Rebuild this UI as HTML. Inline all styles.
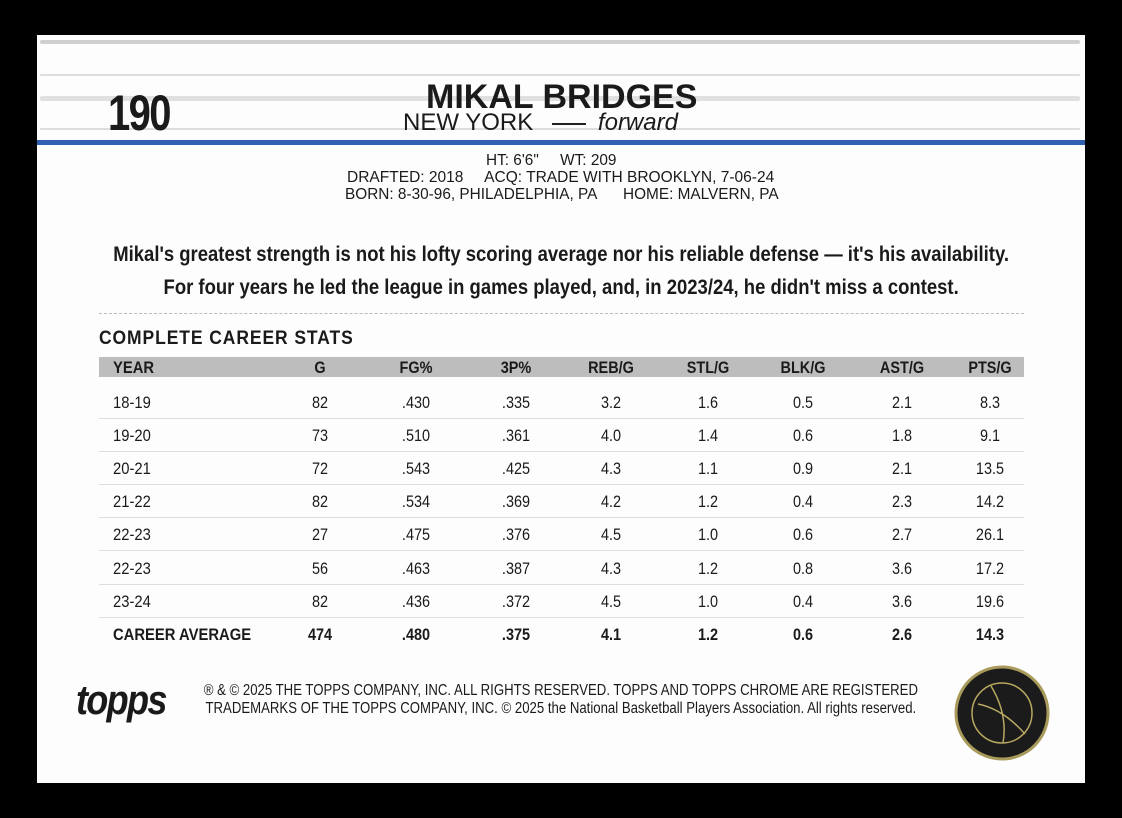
<!DOCTYPE html>
<html><head><meta charset="utf-8"><style>
body{margin:0;width:1122px;height:818px;background:#000;position:relative;overflow:hidden;font-family:"Liberation Sans",sans-serif;color:#1a1a1a}
.card{position:absolute;left:37px;top:35px;width:1048px;height:748px;background:#fdfdfd}
.a{position:absolute;white-space:nowrap}
.grain{position:absolute;height:3px;background:#cfcfcf;border-radius:2px;opacity:.7}
.c{position:absolute;transform:translateX(-50%) scaleX(.85);white-space:nowrap;font-size:17px}
.y{position:absolute;transform:scaleX(.87);transform-origin:left;white-space:nowrap;font-size:17px}
.hdr{position:absolute;left:99px;top:357px;width:925px;height:20px;background:#bdbdbd}
.sep{position:absolute;left:99px;width:925px;height:1px;background:#ddd}
</style></head><body>
<div class="card"></div>
<div class="grain" style="left:40px;top:40px;width:1040px;height:4px;background:#bbb"></div>
<div class="grain" style="left:40px;top:74px;width:1040px;height:2px"></div>
<div class="grain" style="left:40px;top:96px;width:1040px;height:5px;background:#d3d3d3"></div>
<div class="grain" style="left:40px;top:128px;width:1040px;height:2px"></div>
<div class="a" style="left:37px;top:140px;width:1048px;height:5px;background:#2f5fb0"></div>
<div class="a" style="left:108px;top:84px;font-size:50px;font-weight:bold;letter-spacing:-2px;transform:scaleX(.8);transform-origin:left">190</div>
<div class="a" style="left:426px;top:78px;font-size:34px;font-weight:bold">MIKAL BRIDGES</div>
<div class="a" style="left:403px;top:109px;font-size:24px">NEW YORK <span style="display:inline-block;width:34px;height:2px;background:#222;vertical-align:middle;margin:0 12px"></span><i>forward</i></div>
<div class="a" style="top:152px;font-size:16px;line-height:17px;left:486px;transform:scaleX(.96);transform-origin:left">HT: 6'6"&nbsp;&nbsp;&nbsp;&nbsp; WT: 209</div>
<div class="a" style="top:169px;font-size:16px;line-height:17px;left:347px;transform:scaleX(.97);transform-origin:left">DRAFTED: 2018&nbsp;&nbsp;&nbsp;&nbsp; ACQ: TRADE WITH BROOKLYN, 7-06-24</div>
<div class="a" style="top:186px;font-size:16px;line-height:17px;left:345px;transform:scaleX(.96);transform-origin:left">BORN: 8-30-96, PHILADELPHIA, PA&nbsp;&nbsp;&nbsp;&nbsp;&nbsp; HOME: MALVERN, PA</div>
<div class="a" style="left:0;width:1122px;text-align:center;top:238px;font-size:21px;font-weight:bold;line-height:33px;transform:scaleX(.88);transform-origin:562px 0">Mikal's greatest strength is not his lofty scoring average nor his reliable defense — it's his availability.<br>For four years he led the league in games played, and, in 2023/24, he didn't miss a contest.</div>
<div class="a" style="left:99px;top:313px;width:925px;border-top:1px dashed #bbb"></div>
<div class="a" style="left:99px;top:328px;font-size:19px;font-weight:bold;letter-spacing:1px;transform:scaleX(.92);transform-origin:left">COMPLETE CAREER STATS</div>
<div class="hdr"></div>
<div id="t"></div>
<svg class="a" style="left:953px;top:664px" width="98" height="98"><circle cx="49" cy="49" r="46" fill="#1b1b1b" stroke="#a89a5a" stroke-width="3"/><circle cx="49" cy="49" r="30" fill="none" stroke="#b8a860" stroke-width="1.5"/><path d="M25 40 Q50 45 72 70 M38 22 Q55 50 50 79" stroke="#b8a860" fill="none" stroke-width="1.5"/></svg>
<div class="a" style="left:76px;top:676px;font-size:42px;font-weight:bold;font-style:italic;letter-spacing:-2px;transform:scaleX(.86);transform-origin:left">topps</div>
<div class="a" style="left:0;width:1122px;text-align:center;top:682px;font-size:15.5px;line-height:18px;transform:scaleX(.85);transform-origin:560px 0">® &amp; © 2025 THE TOPPS COMPANY, INC. ALL RIGHTS RESERVED. TOPPS AND TOPPS CHROME ARE REGISTERED<br>TRADEMARKS OF THE TOPPS COMPANY, INC. © 2025 the National Basketball Players Association. All rights reserved.</div>
<script>
var cols=[320,416,516,611,708,803,902,990];
var hd=["G","FG%","3P%","REB/G","STL/G","BLK/G","AST/G","PTS/G"];
var rows=[["18-19","82",".430",".335","3.2","1.6","0.5","2.1","8.3"],["19-20","73",".510",".361","4.0","1.4","0.6","1.8","9.1"],["20-21","72",".543",".425","4.3","1.1","0.9","2.1","13.5"],["21-22","82",".534",".369","4.2","1.2","0.4","2.3","14.2"],["22-23","27",".475",".376","4.5","1.0","0.6","2.7","26.1"],["22-23","56",".463",".387","4.3","1.2","0.8","3.6","17.2"],["23-24","82",".436",".372","4.5","1.0","0.4","3.6","19.6"],["CAREER AVERAGE","474",".480",".375","4.1","1.2","0.6","2.6","14.3"]];
var h='<div class="y" style="left:113px;top:358px;font-weight:bold">YEAR</div>';
hd.forEach(function(x,i){h+='<div class="c" style="left:'+cols[i]+'px;top:358px;font-weight:bold">'+x+'</div>';});
rows.forEach(function(r,j){var y=393+j*33.1;var b=j==7?'font-weight:bold;':'';
h+='<div class="y" style="'+b+'left:113px;top:'+y+'px">'+r[0]+'</div>';
for(var i=1;i<9;i++)h+='<div class="c" style="'+b+'left:'+cols[i-1]+'px;top:'+y+'px">'+r[i]+'</div>';
if(j<7)h+='<div class="sep" style="top:'+(y+25)+'px"></div>';});
document.getElementById('t').innerHTML=h;
</script>
</body></html>
